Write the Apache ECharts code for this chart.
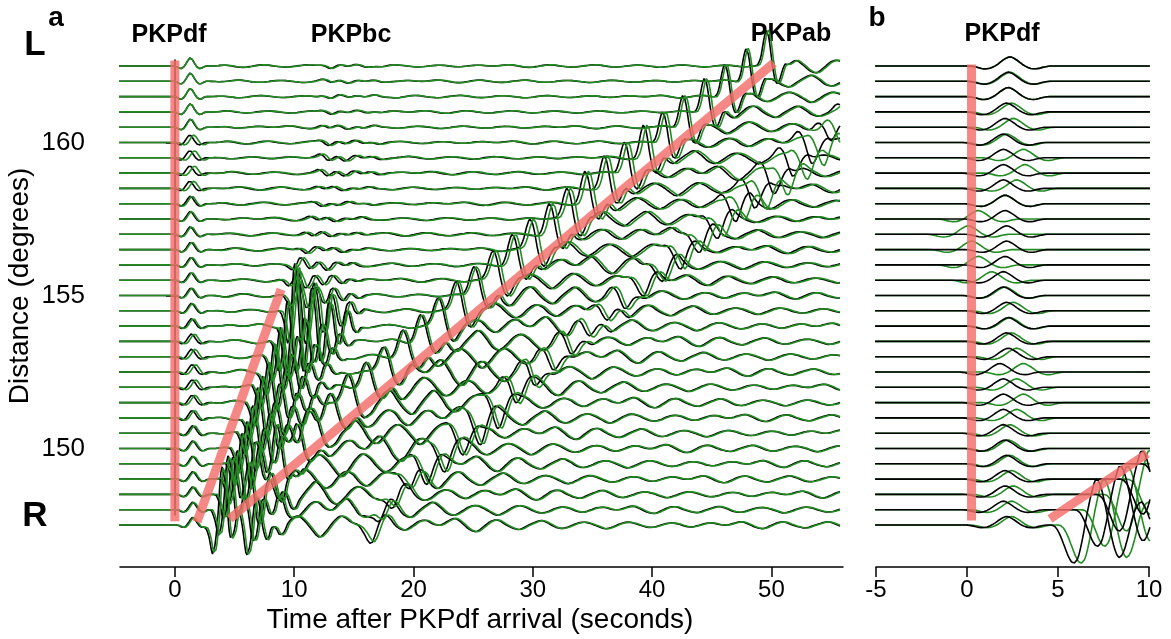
<!DOCTYPE html>
<html>
<head>
<meta charset="utf-8">
<script src="https://cdn.jsdelivr.net/npm/echarts@6/dist/echarts.min.js"></script>
<style>html,body{margin:0;padding:0;background:#fff}#chart{width:1171px;height:639px}</style>
</head>
<body>
<div id="chart"></div>
<script>
// trace distances, top to bottom (degrees)
var distances = [162.5, 162, 161.5, 161, 160.5, 160, 159.5, 159, 158.5, 158, 157.5, 157, 156.5, 156, 155.5, 155,
  154.5, 154, 153.5, 153, 152.5, 152, 151.5, 151, 150.5, 150, 149.5, 149, 148.5, 148, 147.5];

// panel a: arrival (peak) times in s and amplitudes in degrees of trace offset
var dfTimeA = [1.3, 1.3, 1.3, 1.3, 1.3, 1.25, 1.25, 1.25, 1.25, 1.3, 1.3, 1.3, 1.35, 1.35, 1.35, 1.35,
  1.4, 1.4, 1.4, 1.4, 1.45, 1.45, 1.45, 1.45, 1.5, 1.5, 1.5, 1.5, 1.5, 1.5, 1.5];
var dfAmpA = [0.27, 0.27, 0.27, 0.27, 0.27, 0.25, 0.24, 0.24, 0.24, 0.25, 0.25, 0.25, 0.25, 0.25, 0.25, 0.25,
  0.25, 0.25, 0.25, 0.25, 0.25, 0.25, 0.25, 0.25, 0.25, 0.25, 0.25, 0.25, 0.25, 0.25, 0.25];
var greenDfA = [0, 0, 0, 0, 0.05, 0.35, 0.4, 0.4, 0.35, 0.15, 0.1, 0.1, 0.1, 0.1, 0.1, 0.1,
  0.1, 0.15, 0.25, 0.3, 0.3, 0.3, 0.25, 0.2, 0.15, 0.1, 0.1, 0.1, 0.1, 0.1, 0.1];
var bcTimeA = [13.0, 13.0, 13.0, 13.0, 12.9, 12.8, 12.8, 12.7, 12.5, 12.2, 11.9, 11.5, 11.0, 10.5, 10.2, 10.3,
  10.2, 10.0, 9.4, 8.8, 8.3, 7.8, 7.3, 6.9, 6.5, 6.0, 5.6, 5.2, 4.8, 4.4, 3.9];
var bcAmpA = [-0.05, -0.05, -0.05, -0.05, -0.06, -0.07, -0.1, -0.1, -0.06, -0.06, -0.07, -0.08, -0.1, 0.2, 0.3, 0.5,
  1.4, 2.0, 1.3, 1.0, 0.9, 0.9, 0.9, 0.9, 0.9, 0.95, 1.0, 1.0, 1.05, 1.1, 1.25];
var abTimeA = [49.6, 47.9, 46.1, 44.4, 42.6, 40.9, 39.3, 37.7, 36.0, 34.4, 32.9, 31.4, 29.8, 28.3, 26.7, 25.1,
  23.6, 22.1, 20.6, 19.1, 17.5, 16.0, 14.5, 13.0, 11.5, 10.0, 8.5, 7.1, 5.8, 4.8, 4.3];
var abAmpA = [1.15, 1.12, 1.1, 1.08, 1.08, 1.05, 1.05, 1.05, 1.05, 1.05, 1.0, 1.0, 1.0, 1.0, 0.95, 0.95,
  0.95, 0.9, 0.9, 0.9, 0.85, 0.85, 0.85, 0.85, 0.8, 0.8, 0.8, 0.8, 0.8, 0.8, 0.85];
var abWidthA = [0.9, 0.9, 0.95, 0.95, 1.0, 1.0, 1.0, 1.05, 1.05, 1.1, 1.1, 1.1, 1.15, 1.15, 1.2, 1.2,
  1.2, 1.25, 1.25, 1.3, 1.3, 1.3, 1.35, 1.35, 1.4, 1.4, 1.4, 1.45, 1.45, 1.5, 1.5];
var pabTimeA = [61.6, 60.0, 58.3, 56.7, 55.0, 53.4, 51.8, 50.2, 48.6, 47.0, 45.5, 44.0, 42.4, 40.9, 39.3, 37.7,
  36.2, 34.7, 33.2, 31.7, 30.1, 28.6, 27.1, 25.6, 24.1, 22.6, 21.1, 19.7, 18.3, 17.2, 16.5];
var pabAmpA = [-0.4, -0.4, -0.45, -0.5, -0.55, -0.6, -0.6, -0.6, -0.6, -0.6, -0.55, -0.55, -0.55, -0.5, -0.5, -0.5,
  -0.55, -0.55, -0.55, -0.55, -0.55, -0.55, -0.55, -0.55, -0.5, -0.5, -0.5, -0.5, -0.5, -0.5, -0.5];
var greenPabA = [0.3, 0.3, 0.4, 0.6, 0.8, 1.0, 1.2, 1.2, 1.0, 0.8, 0.6, 0.5, 0.4, 0.3, 0.3, 0.3,
  0.3, 0.3, 0.3, 0.3, 0.3, 0.3, 0.3, 0.3, 0.3, 0.3, 0.3, 0.3, 0.3, 0.3, 0.3];
var greenShiftA = [0.15, 0.15, 0.15, 0.2, 0.2, 0.25, 0.3, 0.3, 0.3, 0.3, 0.3, 0.3, 0.3, 0.25, 0.25, 0.2,
  0.2, 0.15, 0.15, 0.15, 0.15, 0.15, 0.15, 0.15, 0.15, 0.15, 0.15, 0.15, 0.15, 0.15, 0.15];
var codaAmpA = [1.0, 1.0, 1.0, 1.0, 1.05, 1.1, 1.15, 1.2, 1.2, 1.2, 1.25, 1.3, 1.3, 1.4, 1.4, 1.5,
  1.6, 1.7, 1.8, 1.9, 2.0, 2.0, 2.1, 2.1, 2.1, 2.1, 2.1, 2.1, 2.1, 2.1, 2.1];
var codaOffA = [0, 7, 13, 3, 19, 25, 9, 31, 15, 21, 5, 27, 11, 33, 17, 2, 23, 29, 8, 14, 36, 20, 4, 26, 10, 32, 16, 22, 6, 28, 12];

// wavelet shapes
var pulseShape = [0, -0.12, -0.3, -0.25, 0.1, 0.65, 1.0, 0.65, 0.1, -0.25, -0.3, -0.12, 0];  // from -1.2, step 0.2
var bcShape = [0, -0.3, -0.8, -0.2, 1.0, 0.3, -0.75, -0.3, 0.6, 0.3, -0.5, -0.4, 0.35, 0.3, -0.2, -0.3, 0.15,
  0.2, -0.05, -0.1, 0]; // from -1.4 s, step 0.35 s
var abShape = [0, 0.05, 0.3, 0.75, 1.0, 0.7, 0.1, -0.35, -0.5, -0.35, -0.1, 0.05, 0];  // from -1.0, step 0.25
var bcShapeB = [0, -0.05, -0.25, -0.55, -0.85, -1.0, -0.85, -0.35, 0.3, 0.85, 1.2, 1.0, 0.5, -0.1, -0.6, -0.85,
  -0.7, -0.3, 0.2, 0.5, 0.6, 0.4, 0.1, 0]; // from 0 s, step 0.25 s
var codaShape = [0.00, 0.12, 0.20, 0.05, -0.15, -0.22, -0.05, 0.14, 0.18, 0.02, -0.12, -0.18, -0.04, 0.10, 0.20, 0.08,
  -0.10, -0.16, -0.06, 0.08, 0.14, 0.06, -0.08, -0.20, -0.10, 0.06, 0.16, 0.10, -0.04, -0.14, -0.10, 0.04,
  0.12, 0.08, -0.06, -0.12, -0.02, 0.10, 0.12, 0.02]; // step 0.6 s
var codaEnv = [1.0, 1.0, 0.8, 0.6, 0.45, 0.35, 0.3, 0.25, 0.25, 0.25, 0.25, 0.25]; // step 5 s

// panel b
var dfTimeB = [2.36, 2.27, 2.27, 2.18, 2.09, 2.0, 2.0, 2.0, 2.0, 2.09, 2.09, 2.18, 2.18, 2.09, 2.0, 2.0,
  2.18, 2.27, 2.18, 2.27, 1.81, 2.0, 2.0, 2.0, 2.0, 2.09, 2.18, 2.09, 2.09, 2.0, 2.18];
var dfTimeBGreen = [2.36, 2.36, 2.27, 2.45, 2.55, 2.18, 3.1, 3.19, 2.73, 2.09, 0.62, 0.07, 0.26, 0.62, 1.36, 2.09,
  2.55, 2.36, 2.45, 2.73, 3.1, 2.73, 3.1, 2.73, 2.36, 2.27, 2.36, 2.45, 2.55, 2.45, 2.45];
var dfAmpB = [0.3, 0.3, 0.3, 0.29, 0.29, 0.28, 0.28, 0.28, 0.28, 0.28, 0.28, 0.28, 0.28, 0.28, 0.28, 0.28,
  0.28, 0.28, 0.28, 0.28, 0.28, 0.28, 0.28, 0.28, 0.28, 0.28, 0.28, 0.28, 0.28, 0.28, 0.28];
var bcRowsB = [26, 27, 28, 29, 30];
var bcTimeB = [9.6, 8.4, 7.1, 5.9, 4.6];
var bcAmpB = [1.1, 1.15, 1.2, 1.2, 1.25];

// red guide bands
var redA = [[[0, 147.62], [0, 162.68]], [[1.85, 147.6], [8.9, 155.2]], [[4.6, 147.7], [50.2, 162.6]]];
var redB = [[[0.25, 147.65], [0.25, 162.55]], [[4.56, 147.7], [9.9, 149.84]]];

var FONT = '"Liberation Sans", Arial, Helvetica, sans-serif';
var GREEN = '#228b22';

function cr(arr, u) {
  var n = arr.length;
  if (u <= 0 || u >= n - 1) return 0;
  var i = Math.floor(u), f = u - i;
  var p0 = arr[Math.max(i - 1, 0)], p1 = arr[i], p2 = arr[i + 1], p3 = arr[Math.min(i + 2, n - 1)];
  return 0.5 * (2 * p1 + (-p0 + p2) * f + (2 * p0 - 5 * p1 + 4 * p2 - p3) * f * f + (-p0 + 3 * p1 - 3 * p2 + p3) * f * f * f);
}
function crWrap(arr, u) {
  var n = arr.length, i = Math.floor(u), f = u - i;
  var g = function (j) { return arr[((j % n) + n) % n]; };
  var p0 = g(i - 1), p1 = g(i), p2 = g(i + 1), p3 = g(i + 2);
  return 0.5 * (2 * p1 + (-p0 + p2) * f + (2 * p0 - 5 * p1 + 4 * p2 - p3) * f * f + (-p0 + 3 * p1 - 3 * p2 + p3) * f * f * f);
}
function shapeAt(arr, start, step, dt) { return cr(arr, (dt - start) / step); }
function ramp(x) { x = Math.max(0, Math.min(1, x)); return x * x * (3 - 2 * x); }
function envAt(x) {
  var u = x / 5, i = Math.floor(u);
  if (i >= codaEnv.length - 1) return codaEnv[codaEnv.length - 1];
  var f = u - i;
  return codaEnv[i] * (1 - f) + codaEnv[i + 1] * f;
}

function traceA(i, green) {
  var s = green ? greenShiftA[i] : 0;
  var sDf = green ? greenDfA[i] : 0;
  var sPab = green ? greenPabA[i] : 0;
  var wDf = 1.1, wPab = 1.6, w = abWidthA[i];
  var pts = [];
  for (var k = 0; k <= 606; k++) {
    var t = -4.85 + k * 0.1;
    var v = dfAmpA[i] * shapeAt(pulseShape, -1.2 * wDf, 0.2 * wDf, t - dfTimeA[i] - sDf);
    v += bcAmpA[i] * shapeAt(bcShape, -1.4, 0.35, t - bcTimeA[i] - s);
    v += abAmpA[i] * shapeAt(abShape, -1.0 * w, 0.25 * w, t - abTimeA[i] - s);
    v += pabAmpA[i] * shapeAt(pulseShape, -1.2 * wPab, 0.2 * wPab, t - pabTimeA[i] - sPab);
    var cs = abTimeA[i] + 1.2 + s;
    var c = codaAmpA[i] * crWrap(codaShape, (t - cs) / 0.6 + codaOffA[i]);
    var pre = 0.2 * ramp((t - dfTimeA[i] - 1.5) / 2);
    var post = t > cs ? envAt(t - cs) * ramp((t - cs) / 1.5) : 0;
    v += c * Math.max(pre, post);
    pts.push([+t.toFixed(2), distances[i] + v]);
  }
  return pts;
}

function traceB(i, green) {
  var w = 1.85, j = bcRowsB.indexOf(i);
  var t0 = green ? dfTimeBGreen[i] : dfTimeB[i];
  var pts = [];
  for (var k = 0; k <= 302; k++) {
    var t = -5.05 + k * 0.05;
    var v = dfAmpB[i] * shapeAt(pulseShape, -1.2 * w, 0.2 * w, t - t0);
    if (j >= 0) v += bcAmpB[j] * shapeAt(bcShapeB, 0, 0.25, t - bcTimeB[j] - (green ? 0.4 : 0));
    pts.push([+t.toFixed(2), distances[i] + v]);
  }
  return pts;
}

var series = [];
function traceSeries(data, xi, color, z) {
  return {
    type: 'line', xAxisIndex: xi, yAxisIndex: xi, data: data, symbol: 'none', clip: false,
    silent: true, z: z, lineStyle: {color: color, width: 1.6}
  };
}
distances.forEach(function (d, i) {
  series.push(traceSeries(traceA(i, false), 0, '#000', 2));
  series.push(traceSeries(traceA(i, true), 0, GREEN, 3));
  series.push(traceSeries(traceB(i, true), 1, GREEN, 2));
  series.push(traceSeries(traceB(i, false), 1, '#000', 3));
});
function redSeries(data, xi) {
  return {
    type: 'line', xAxisIndex: xi, yAxisIndex: xi, data: data, symbol: 'none', clip: false, silent: true, z: 5,
    lineStyle: {color: '#f36e6a', width: 9, opacity: 0.82, cap: 'butt'}
  };
}
redA.forEach(function (r) { series.push(redSeries(r, 0)); });
redB.forEach(function (r) { series.push(redSeries(r, 1)); });

var yMin = 147.827, yMax = 162.696;
var axisText = {color: '#000', fontSize: 24, fontFamily: FONT};

var option = {
  animation: false,
  backgroundColor: '#fff',
  grid: [
    {left: 120, top: 60, width: 723, height: 455},
    {left: 876, top: 60, width: 273, height: 455}
  ],
  xAxis: [
    {
      gridIndex: 0, type: 'value', min: -4.6, max: 56, offset: 52,
      axisLine: {lineStyle: {color: '#000', width: 1.5}},
      axisTick: {length: 10, lineStyle: {color: '#000', width: 1.5}, customValues: [0, 10, 20, 30, 40, 50]},
      axisLabel: Object.assign({margin: 11, customValues: [0, 10, 20, 30, 40, 50]}, axisText),
      splitLine: {show: false}
    },
    {
      gridIndex: 1, type: 'value', min: -5, max: 10, interval: 5, offset: 52,
      axisLine: {lineStyle: {color: '#000', width: 1.5}},
      axisTick: {length: 10, lineStyle: {color: '#000', width: 1.5}},
      axisLabel: Object.assign({margin: 11, showMinLabel: true, showMaxLabel: true}, axisText),
      splitLine: {show: false}
    }
  ],
  yAxis: [
    {
      gridIndex: 0, type: 'value', min: yMin, max: yMax, offset: 27,
      axisLine: {show: true, lineStyle: {color: '#000', width: 1.5}},
      axisTick: {show: true, length: 9, lineStyle: {color: '#000', width: 1.5}, customValues: [150, 155, 160]},
      axisLabel: {margin: 8, customValues: [150, 155, 160], color: '#000', fontSize: 26, fontFamily: FONT},
      splitLine: {show: false}
    },
    {gridIndex: 1, type: 'value', min: yMin, max: yMax, show: false, splitLine: {show: false}}
  ],
  graphic: [
    {type: 'text', x: 35, y: 45, style: {text: 'L', font: 'bold 35px ' + FONT, fill: '#000', textAlign: 'center', textVerticalAlign: 'middle'}},
    {type: 'text', x: 35, y: 516, style: {text: 'R', font: 'bold 35px ' + FONT, fill: '#000', textAlign: 'center', textVerticalAlign: 'middle'}},
    {type: 'text', x: 56, y: 18, style: {text: 'a', font: 'bold 28px ' + FONT, fill: '#000', textAlign: 'center', textVerticalAlign: 'middle'}},
    {type: 'text', x: 877, y: 18, style: {text: 'b', font: 'bold 28px ' + FONT, fill: '#000', textAlign: 'center', textVerticalAlign: 'middle'}},
    {type: 'text', x: 169, y: 35, style: {text: 'PKPdf', font: 'bold 25px ' + FONT, fill: '#000', textAlign: 'center', textVerticalAlign: 'middle'}},
    {type: 'text', x: 351, y: 35, style: {text: 'PKPbc', font: 'bold 25px ' + FONT, fill: '#000', textAlign: 'center', textVerticalAlign: 'middle'}},
    {type: 'text', x: 791, y: 34, style: {text: 'PKPab', font: 'bold 25px ' + FONT, fill: '#000', textAlign: 'center', textVerticalAlign: 'middle'}},
    {type: 'text', x: 1002, y: 34, style: {text: 'PKPdf', font: 'bold 25px ' + FONT, fill: '#000', textAlign: 'center', textVerticalAlign: 'middle'}},
    {type: 'text', x: 20, y: 286, rotation: Math.PI / 2, style: {text: 'Distance (degrees)', font: '28px ' + FONT, fill: '#000', textAlign: 'center', textVerticalAlign: 'middle'}},
    {type: 'text', x: 480, y: 620, style: {text: 'Time after PKPdf arrival (seconds)', font: '28px ' + FONT, fill: '#000', textAlign: 'center', textVerticalAlign: 'middle'}}
  ],
  series: series
};

var chart = echarts.init(document.getElementById('chart'), null, {renderer: 'canvas'});
chart.setOption(option);
</script>
</body>
</html>
